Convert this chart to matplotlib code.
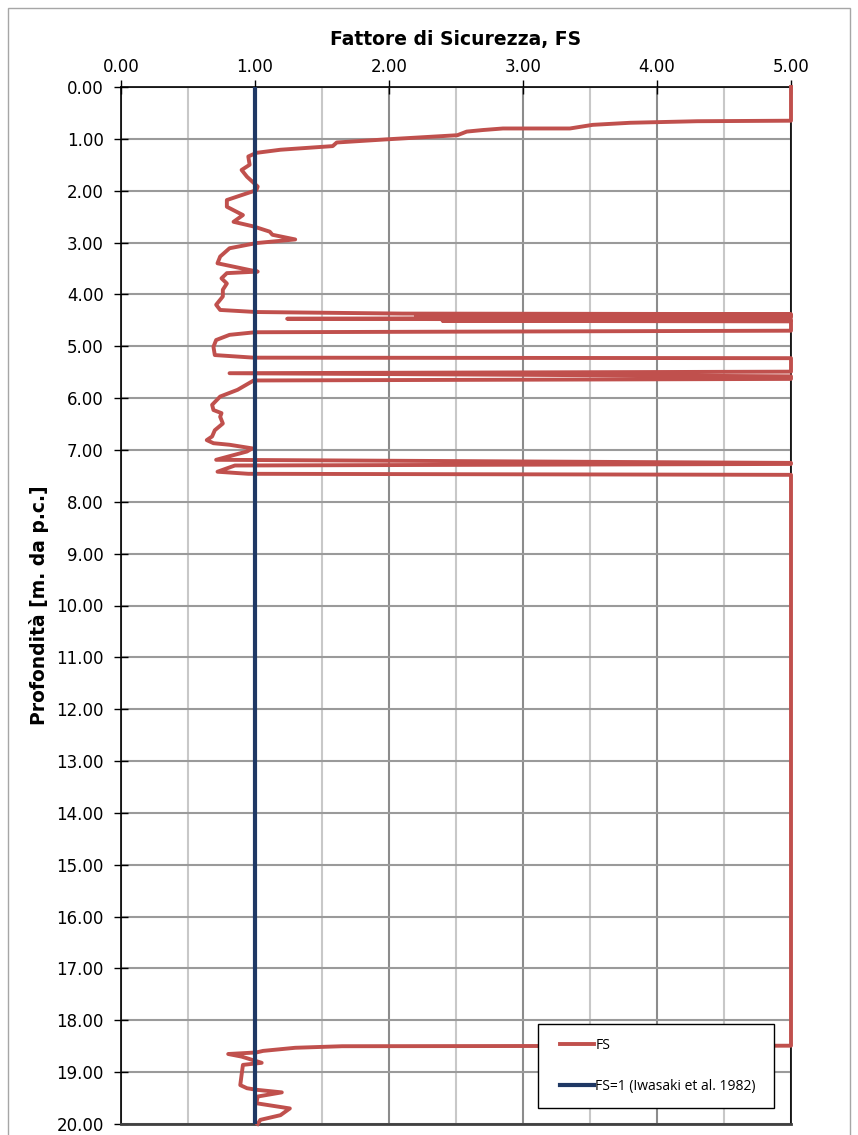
import matplotlib
matplotlib.use("Agg")
from matplotlib import pyplot as plt
from matplotlib.patches import Rectangle
from matplotlib.legend_handler import HandlerLine2D
from matplotlib.ticker import MultipleLocator, FormatStrFormatter

# profilo del fattore di sicurezza (FS) con la profondità
fs = [5.00, 5.00, 4.30, 3.80, 3.52, 3.35, 2.85, 2.70, 2.58, 2.51,
      1.98, 1.61, 1.58, 1.19, 1.01, 0.95, 0.96, 0.90, 0.94, 1.02,
      1.01, 0.79, 0.79, 0.91, 0.84, 0.99, 1.11, 1.13, 1.30, 1.01,
      0.81, 0.74, 0.72, 0.96, 1.02, 0.79, 0.75, 0.79, 0.76, 0.76,
      0.71, 0.74, 1.01, 2.10, 5.00, 2.20, 5.00, 2.30, 5.00, 1.24,
      5.00, 2.40, 5.00, 5.00,
      1.00, 0.81, 0.71, 0.69, 0.70, 0.99, 5.00, 5.00, 0.81, 5.00,
      5.00, 0.99, 0.91, 0.87, 0.74, 0.68, 0.69, 0.75, 0.74, 0.76,
      0.70, 0.68, 0.64, 0.69, 0.81, 0.98, 0.94, 0.71, 5.00, 5.00,
      0.85, 0.72, 0.95, 5.00, 5.00, 1.65, 1.30, 1.06, 1.01, 0.80,
      0.90, 1.05, 0.91, 0.90, 0.89, 0.94, 1.01, 1.20, 1.02, 1.01,
      1.26, 1.19, 1.04, 1.02]
depth = [0.00, 0.65, 0.66, 0.69, 0.73, 0.80, 0.80, 0.83, 0.86, 0.93,
         1.01, 1.07, 1.14, 1.21, 1.27, 1.34, 1.50, 1.60, 1.73, 1.92,
         1.99, 2.18, 2.31, 2.47, 2.60, 2.69, 2.79, 2.85, 2.94, 3.01,
         3.11, 3.27, 3.40, 3.53, 3.56, 3.59, 3.69, 3.79, 3.91, 4.04,
         4.20, 4.30, 4.34, 4.37, 4.38, 4.40, 4.41, 4.43, 4.44, 4.47,
         4.49, 4.51, 4.52, 4.70,
         4.73, 4.78, 4.88, 5.01, 5.17, 5.22, 5.23, 5.49, 5.52, 5.58,
         5.63, 5.66, 5.78, 5.84, 5.97, 6.13, 6.23, 6.29, 6.36, 6.49,
         6.62, 6.74, 6.81, 6.87, 6.90, 6.97, 7.03, 7.19, 7.25, 7.27,
         7.30, 7.42, 7.46, 7.48, 18.49, 18.50, 18.53, 18.59, 18.62, 18.65,
         18.70, 18.82, 18.86, 19.05, 19.25, 19.31, 19.34, 19.39, 19.47, 19.60,
         19.70, 19.83, 19.92, 20.00]

# soglia di liquefazione
fs_lim = [1.0, 1.0]
depth_lim = [0.0, 20.0]

fig = plt.figure(figsize=(8.58, 11.35), dpi=100)
ax = fig.add_axes([121 / 858, 1 - 1124 / 1135, 670 / 858, 1037 / 1135])

ax.plot(fs, depth, color='#C0504D', lw=2.8, solid_joinstyle='round',
        label='FS', zorder=3, clip_on=False)
ax.plot(fs_lim, depth_lim, color='#1F3864', lw=3.0,
        label='FS=1 (Iwasaki et al. 1982)', zorder=4)

ax.set_xlim(0, 5)
ax.set_ylim(20, 0)

ax.xaxis.tick_top()
ax.xaxis.set_label_position('top')
ax.xaxis.set_major_locator(MultipleLocator(1))
ax.xaxis.set_minor_locator(MultipleLocator(0.5))
ax.yaxis.set_major_locator(MultipleLocator(1))
ax.xaxis.set_major_formatter(FormatStrFormatter('%.2f'))
ax.yaxis.set_major_formatter(FormatStrFormatter('%.2f'))

ax.tick_params(axis='x', which='major', direction='inout', length=10,
               width=1, labelsize=12, pad=3, colors='black')
ax.tick_params(axis='x', which='minor', length=0)
ax.tick_params(axis='y', which='major', direction='inout', length=10,
               width=1, labelsize=12, pad=7.5)

ax.grid(True, axis='x', which='major', color='#8c8c8c', lw=1.5, zorder=0)
ax.grid(True, axis='x', which='minor', color='#c8c8c8', lw=1.5, zorder=0)
ax.grid(True, axis='y', which='major', color='#9a9a9a', lw=1.5, zorder=0)
ax.set_axisbelow(True)

for side in ['top', 'left', 'right']:
    ax.spines[side].set_color('black')
    ax.spines[side].set_linewidth(1.2)
ax.spines['bottom'].set_color('#404040')
ax.spines['bottom'].set_linewidth(2)

ax.set_xlabel('Fattore di Sicurezza, FS', fontsize=13.5, fontweight='bold',
              labelpad=9)
ax.set_ylabel('Profondità [m. da p.c.]', fontsize=13.5, fontweight='bold',
              labelpad=5)

leg = ax.legend(loc='lower left', bbox_to_anchor=(0.622, 0.0154, 0.353, 0.08),
                mode='expand', fontsize=10, labelspacing=1.9, borderpad=1.0,
                handlelength=3.05, handletextpad=0.1, fancybox=False,
                framealpha=1, edgecolor='black', borderaxespad=0,
                handler_map={plt.Line2D: HandlerLine2D(xpad=0.6)})
leg.get_frame().set_linewidth(1.0)
for txt in leg.get_texts():
    txt.set_family(['Open Sans', 'DejaVu Sans'])

# cornice dell'area grafico
fig.patches.append(Rectangle((8 / 858, -0.01), 842 / 858, 1.01 - 8 / 1135,
                             transform=fig.transFigure, fill=False,
                             edgecolor='#a6a6a6', lw=1.0))

fig.savefig('out.png', dpi=100)
